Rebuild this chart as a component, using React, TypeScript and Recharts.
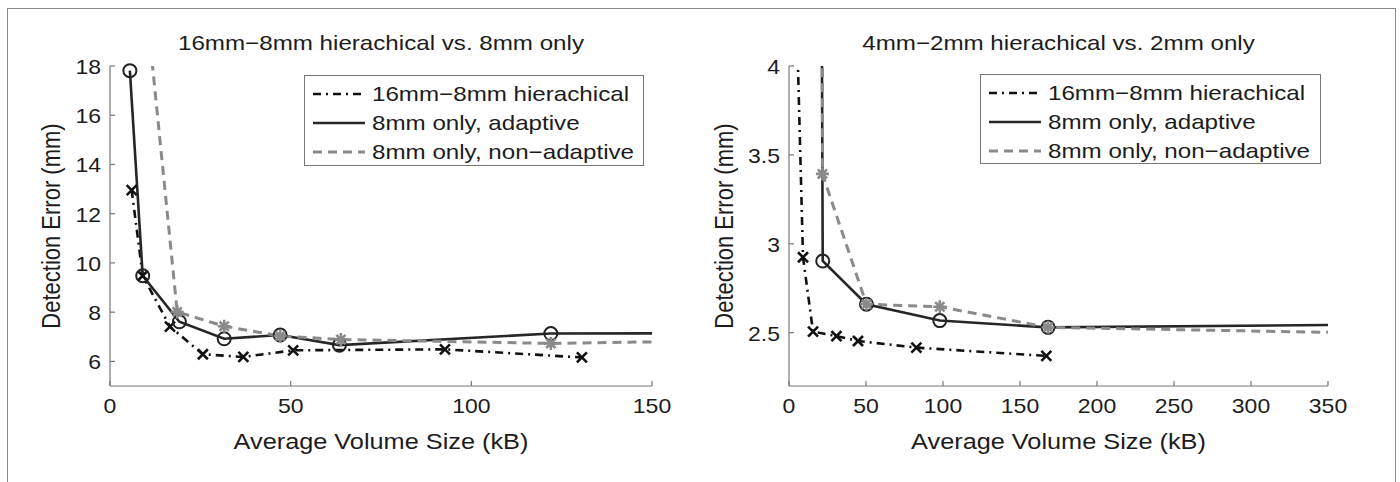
import { LineChart, Line, XAxis, YAxis, Legend } from 'recharts';

// the figure's lettering is a little stretched sideways, so text gets scaleX
const SX = 1.15;
const FONT = '"Liberation Sans", Arial, Helvetica, sans-serif';
const INK = '#1c1c1c';
const AXIS = '#777';

const legendLabels = ['16mm\u22128mm hierachical', '8mm only, adaptive', '8mm only, non\u2212adaptive'];

// left panel: 16mm-8mm hierachical vs. 8mm only
const leftXTicks = [0, 50, 100, 150];
const leftYTicks = [6, 8, 10, 12, 14, 16, 18];
const leftHierX = [6.0, 9.05, 16.6, 25.7, 36.9, 50.7, 92.7, 130.6];
const leftHierY = [12.96, 9.48, 7.41, 6.29, 6.18, 6.45, 6.49, 6.16];
const leftAdaptX = [5.5, 9.05, 19.2, 31.6, 47.1, 63.5, 122, 180];
const leftAdaptY = [17.81, 9.48, 7.61, 6.92, 7.07, 6.66, 7.13, 7.15];
const leftNonAdaptX = [10.4, 18.6, 31.6, 47.1, 63.9, 122, 180];
const leftNonAdaptY = [20, 8.01, 7.43, 7.03, 6.89, 6.73, 6.86];

// right panel: 4mm-2mm hierachical vs. 2mm only
const rightXTicks = [0, 50, 100, 150, 200, 250, 300, 350];
const rightYTicks = [2.5, 3, 3.5, 4];
const rightHierX = [4.3, 9.1, 15.6, 30.8, 44.8, 82.7, 167.1];
const rightHierY = [4.5, 2.924, 2.506, 2.481, 2.453, 2.416, 2.369];
const rightAdaptX = [21.0, 21.9, 50.3, 97.9, 168.2, 400];
const rightAdaptY = [5.0, 2.903, 2.66, 2.568, 2.53, 2.547];
const rightNonAdaptX = [21.8, 21.7, 50.3, 97.9, 168.2, 400];
const rightNonAdaptY = [5.0, 3.393, 2.66, 2.646, 2.53, 2.494];

const zip = (xs: number[], ys: number[]) => xs.map((x, i) => ({ x, y: ys[i] }));

const STYLES = [
    { stroke: '#111', width: 2.6, dash: '8 5 2 5', marker: 'x' },
    { stroke: '#262626', width: 2.6, dash: undefined, marker: 'o' },
    { stroke: '#8a8a8a', width: 3, dash: '9 6', marker: 'star' },
];

const makeDot = (kind: string) => (props: any) => {
    const { cx, cy, index } = props;
    if (cx == null || cy == null) return <g key={`d-${index}`} />;
    if (kind === 'x') {
        const r = 5;
        return <path key={`d-${index}`} d={`M${cx - r},${cy - r}L${cx + r},${cy + r}M${cx - r},${cy + r}L${cx + r},${cy - r}`} stroke="#111" strokeWidth={2.6} fill="none" />;
    }
    if (kind === 'o') {
        return <circle key={`d-${index}`} cx={cx} cy={cy} r={6.5} fill="none" stroke="#222" strokeWidth={2} />;
    }
    const r = 6.5, d = r * 0.707;
    return (
        <path
            key={`d-${index}`}
            d={`M${cx - r},${cy}L${cx + r},${cy}M${cx},${cy - r}L${cx},${cy + r}M${cx - d},${cy - d}L${cx + d},${cy + d}M${cx - d},${cy + d}L${cx + d},${cy - d}`}
            stroke="#8a8a8a"
            strokeWidth={2.6}
            fill="none"
        />
    );
};

const tickText = { fontSize: 20, fill: INK, fontFamily: FONT };

const BottomTick = ({ x, y, payload }: any) => (
    <g>
        <line x1={x} y1={y} x2={x} y2={y - 5} stroke={AXIS} strokeWidth={1.2} />
        <text transform={`translate(${x},${y + 20}) scale(${SX},1)`} textAnchor="middle" dominantBaseline="central" {...tickText}>
            {payload.value}
        </text>
    </g>
);
const TopTick = ({ x, y }: any) => <line x1={x} y1={y} x2={x} y2={y + 5} stroke={AXIS} strokeWidth={1.2} />;
const LeftTick = ({ x, y, payload }: any) => (
    <g>
        <line x1={x} y1={y} x2={x + 5} y2={y} stroke={AXIS} strokeWidth={1.2} />
        <text transform={`translate(${x - 9},${y + 1}) scale(${SX},1)`} textAnchor="end" dominantBaseline="central" {...tickText}>
            {payload.value}
        </text>
    </g>
);
const RightTick = ({ x, y }: any) => <line x1={x} y1={y} x2={x - 5} y2={y} stroke={AXIS} strokeWidth={1.2} />;

const LegendBox = () => (
    <div
        style={{
            width: '100%', height: '100%', boxSizing: 'border-box', border: `1.5px solid ${AXIS}`,
            background: '#fff', paddingTop: 3, paddingLeft: 8, fontFamily: FONT, color: INK,
        }}
    >
        {legendLabels.map((label, i) => (
            <div key={label} style={{ display: 'flex', alignItems: 'center', height: 29 }}>
                <svg width={52} height={10} style={{ flex: 'none' }}>
                    <line x1={0} y1={5} x2={52} y2={5} stroke={STYLES[i].stroke} strokeWidth={STYLES[i].width} strokeDasharray={STYLES[i].dash} />
                </svg>
                <span style={{ marginLeft: 7, fontSize: 21, whiteSpace: 'nowrap', display: 'inline-block', transform: `scaleX(${SX})`, transformOrigin: 'left center' }}>
                    {label}
                </span>
            </div>
        ))}
    </div>
);

interface PanelProps {
    left: number;
    plotLeft: number;
    plotRight: number;
    xDomain: number[];
    yDomain: number[];
    xTicks: number[];
    yTicks: number[];
    series: Array<Array<{ x: number; y: number }>>;
    title: string;
    yLabelX: number;
    legend: { left: number; top: number; width: number; height: number };
}

function Panel({ left, plotLeft, plotRight, xDomain, yDomain, xTicks, yTicks, series, title, yLabelX, legend }: PanelProps) {
    const W = 700, H = 482, TOP = 66, BOTTOM = 386;
    const margin = { top: TOP, left: plotLeft - 60, right: W - plotRight, bottom: H - BOTTOM - 30 };
    const labelStyle: any = { position: 'absolute', fontFamily: FONT, color: INK, whiteSpace: 'nowrap' };
    const inView = (p: { x: number; y: number }) => p.x >= xDomain[0] && p.x <= xDomain[1] && p.y >= yDomain[0] && p.y <= yDomain[1];

    return (
        <div style={{ position: 'absolute', left, top: 0, width: W, height: H }}>
            <LineChart width={W} height={H} margin={margin}>
                <XAxis dataKey="x" type="number" domain={xDomain} ticks={xTicks} allowDataOverflow
                    axisLine={{ stroke: AXIS, strokeWidth: 1.2 }} tickLine={false} tickSize={0} tickMargin={0} height={30} tick={<BottomTick />} />
                <XAxis xAxisId="top" dataKey="x" orientation="top" type="number" domain={xDomain} ticks={xTicks}
                    axisLine={{ stroke: AXIS, strokeWidth: 1.2 }} tickLine={false} tickSize={0} tickMargin={0} height={0} tick={<TopTick />} />
                <YAxis type="number" domain={yDomain} ticks={yTicks} allowDataOverflow
                    axisLine={{ stroke: AXIS, strokeWidth: 1.2 }} tickLine={false} tickSize={0} tickMargin={0} width={60} tick={<LeftTick />} />
                <YAxis yAxisId="right" orientation="right" type="number" domain={yDomain} ticks={yTicks}
                    axisLine={{ stroke: AXIS, strokeWidth: 1.2 }} tickLine={false} tickSize={0} tickMargin={0} width={0} tick={<RightTick />} />
                {series.map((data, i) => [
                    <Line
                        key={`s-${i}`}
                        data={data}
                        dataKey="y"
                        type="linear"
                        stroke={STYLES[i].stroke}
                        strokeWidth={STYLES[i].width}
                        strokeDasharray={STYLES[i].dash}
                        dot={false}
                        activeDot={false}
                        isAnimationActive={false}
                        name={legendLabels[i]}
                    />,
                    // markers on the unclipped top/right axes so edge markers stay whole
                    <Line
                        key={`m-${i}`}
                        data={data.filter(inView)}
                        dataKey="y"
                        xAxisId="top"
                        yAxisId="right"
                        stroke="none"
                        dot={makeDot(STYLES[i].marker)}
                        activeDot={false}
                        legendType="none"
                        isAnimationActive={false}
                    />,
                ])}
                <Legend
                    layout="vertical"
                    align="center"
                    verticalAlign="middle"
                    content={() => <LegendBox />}
                    wrapperStyle={{ left: legend.left, top: legend.top, width: legend.width, height: legend.height }}
                />
            </LineChart>

            <div style={{ ...labelStyle, left: plotLeft, width: plotRight - plotLeft, top: 30, height: 26, lineHeight: '26px', textAlign: 'center', fontSize: 21, transform: `scaleX(${SX})` }}>
                {title}
            </div>
            <div style={{ ...labelStyle, left: plotLeft, width: plotRight - plotLeft, top: 429, height: 26, lineHeight: '26px', textAlign: 'center', fontSize: 22, transform: `scaleX(${SX})` }}>
                Average Volume Size (kB)
            </div>
            <div style={{ ...labelStyle, left: yLabelX, top: (TOP + BOTTOM) / 2, fontSize: 22, lineHeight: '26px', transform: `translate(-50%,-50%) rotate(-90deg) scaleY(${SX})` }}>
                Detection Error (mm)
            </div>
        </div>
    );
}

export default function App() {
    return (
        <div style={{ position: 'absolute', left: 0, top: 0, width: 1400, height: 482, background: '#fff', overflow: 'hidden' }}>
            <div style={{ position: 'absolute', left: 7, top: 8, width: 1389, height: 474, boxSizing: 'border-box', border: '1.5px solid #8a8a8a', borderBottom: 'none' }} />
            <Panel
                left={0}
                plotLeft={110}
                plotRight={652}
                xDomain={[0, 150]}
                yDomain={[5, 18]}
                xTicks={leftXTicks}
                yTicks={leftYTicks}
                series={[zip(leftHierX, leftHierY), zip(leftAdaptX, leftAdaptY), zip(leftNonAdaptX, leftNonAdaptY)]}
                title={'16mm\u22128mm hierachical vs. 8mm only'}
                yLabelX={52}
                legend={{ left: 304, top: 75, width: 340, height: 91 }}
            />
            <Panel
                left={700}
                plotLeft={89}
                plotRight={628}
                xDomain={[0, 350]}
                yDomain={[2.2, 4]}
                xTicks={rightXTicks}
                yTicks={rightYTicks}
                series={[zip(rightHierX, rightHierY), zip(rightAdaptX, rightAdaptY), zip(rightNonAdaptX, rightNonAdaptY)]}
                title={'4mm\u22122mm hierachical vs. 2mm only'}
                yLabelX={25}
                legend={{ left: 280, top: 74, width: 341, height: 90 }}
            />
        </div>
    );
}
